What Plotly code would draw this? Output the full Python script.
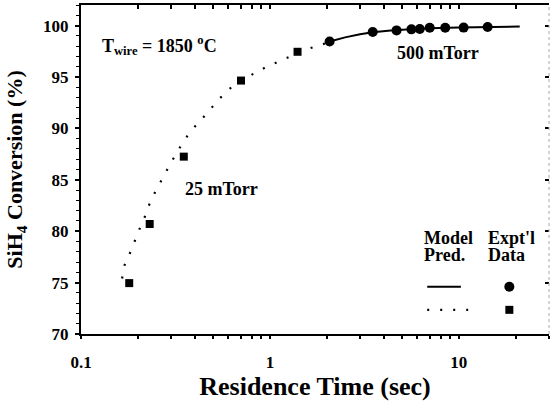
import plotly.graph_objects as go
import numpy as np

# Experimental data, 25 mTorr (squares)
time_25 = [0.18, 0.231, 0.35, 0.703, 1.40]
conv_25 = [74.95, 80.7, 87.25, 94.65, 97.45]

# Experimental data, 500 mTorr (circles)
time_500 = [2.07, 3.5, 4.68, 5.61, 6.21, 7.01, 8.47, 10.6, 14.2]
conv_500 = [98.45, 99.37, 99.53, 99.63, 99.67, 99.78, 99.79, 99.8, 99.86]

# Model prediction, 25 mTorr (dotted)
model_t_25 = [0.165, 0.169, 0.181, 0.192, 0.205, 0.22, 0.233, 0.25, 0.272, 0.297,
              0.325, 0.36, 0.404, 0.466, 0.534, 0.625, 0.85, 0.99, 1.18, 1.57, 2.07]
model_c_25 = [75.4, 76.6, 77.8, 79.05, 80.3, 81.6, 82.9, 84.0, 85.3, 86.55,
              87.8, 89.1, 90.25, 91.5, 92.8, 94.0, 95.5, 96.1, 96.7, 97.7, 98.4]

# Model prediction, 500 mTorr (solid)
model_t_500 = [2.07, 2.5, 3.0, 3.5, 4.5, 5.5, 7.0, 10.0, 14.0, 21.0]
model_c_500 = [98.45, 98.85, 99.15, 99.35, 99.55, 99.65, 99.75, 99.82, 99.86, 99.9]

x_range = [0.1, 30]
y_range = [70, 102]
x_tick_vals = [0.1, 1, 10]
x_tick_text = ["0.1", "1", "10"]
minor_x = [m * d for d in (0.1, 1, 10) for m in range(2, 10)] + [20, 30]

FONT = "Liberation Serif"
DOTS = "2px,11px"

fig = go.Figure()

fig.add_trace(go.Scatter(x=model_t_25, y=model_c_25, mode="lines",
                         line=dict(color="black", width=2.2, dash=DOTS),
                         showlegend=False))
fig.add_trace(go.Scatter(x=model_t_500, y=model_c_500, mode="lines",
                         line=dict(color="black", width=2), showlegend=False))
fig.add_trace(go.Scatter(x=time_25, y=conv_25, mode="markers",
                         marker=dict(symbol="square", size=8, color="black"),
                         showlegend=False))
fig.add_trace(go.Scatter(x=time_500, y=conv_500, mode="markers",
                         marker=dict(symbol="circle", size=10, color="black"),
                         showlegend=False))

# legend glyphs
fig.add_trace(go.Scatter(x=[6.8, 10.25], y=[74.6, 74.6], mode="lines",
                         line=dict(color="black", width=2), showlegend=False))
fig.add_trace(go.Scatter(x=[6.8, 11.2], y=[72.35, 72.35], mode="lines",
                         line=dict(color="black", width=2.2, dash=DOTS),
                         showlegend=False))
fig.add_trace(go.Scatter(x=[18.5], y=[74.6], mode="markers",
                         marker=dict(symbol="circle", size=10, color="black"),
                         showlegend=False))
fig.add_trace(go.Scatter(x=[18.5], y=[72.35], mode="markers",
                         marker=dict(symbol="square", size=8, color="black"),
                         showlegend=False))

# helper traces for secondary axes
fig.add_trace(go.Scatter(x=[1], y=[None], xaxis="x2", yaxis="y", showlegend=False,
                         hoverinfo="skip"))
fig.add_trace(go.Scatter(x=[1], y=[None], xaxis="x", yaxis="y2", showlegend=False,
                         hoverinfo="skip"))

ann_font = dict(family=FONT, size=18, color="black", weight="bold")
annotations = [
    dict(x=np.log10(0.126), y=98.1, text="T<sub>wire</sub> = 1850 <sup>o</sup>C",
         xanchor="left", yanchor="middle"),
    dict(x=np.log10(0.348), y=84.1, text="25 mTorr", xanchor="left", yanchor="middle"),
    dict(x=np.log10(4.6), y=97.35, text="500 mTorr", xanchor="left", yanchor="middle"),
    dict(x=np.log10(6.4), y=79.3, text="Model", xanchor="left", yanchor="middle"),
    dict(x=np.log10(6.4), y=77.7, text="Pred.", xanchor="left", yanchor="middle"),
    dict(x=np.log10(13.9), y=79.3, text="Expt'l", xanchor="left", yanchor="middle"),
    dict(x=np.log10(13.9), y=77.7, text="Data", xanchor="left", yanchor="middle"),
]
for a in annotations:
    a.update(xref="x", yref="y", showarrow=False, font=ann_font)

fig.update_layout(
    width=550, height=412,
    margin=dict(l=81, r=1, t=5, b=78),
    plot_bgcolor="white", paper_bgcolor="white",
    font=dict(family=FONT, size=17, color="black", weight="bold"),
    annotations=annotations,
    xaxis=dict(
        type="log", range=[np.log10(x_range[0]), np.log10(x_range[1])],
        tickvals=x_tick_vals + minor_x,
        ticktext=x_tick_text + [""] * len(minor_x),
        ticks="outside", ticklen=3, tickwidth=1.5, tickcolor="black",
        ticklabelstandoff=9,
        showline=True, linewidth=2, linecolor="black", showgrid=False, zeroline=False,
        tickfont=dict(family=FONT, size=17, weight="bold"),
        automargin=False,
        title=dict(text="Residence Time (sec)", standoff=0,
                   font=dict(family=FONT, size=26, weight="bold")),
    ),
    xaxis2=dict(
        type="log", range=[np.log10(x_range[0]), np.log10(x_range[1])],
        overlaying="x", side="top", automargin=False,
        tickvals=x_tick_vals + minor_x, showticklabels=False,
        ticks="inside", ticklen=4, tickwidth=1.5, tickcolor="black",
        showline=True, linewidth=1.5, linecolor="black", showgrid=False, zeroline=False,
    ),
    yaxis=dict(
        range=y_range, dtick=5, tick0=70,
        ticks="outside", ticklen=4, tickwidth=1.5, tickcolor="black",
        ticklabelstandoff=3,
        minor=dict(dtick=1, ticks="outside", ticklen=3, tickwidth=1, tickcolor="black"),
        showline=True, linewidth=2, linecolor="black", showgrid=False, zeroline=False,
        tickfont=dict(family=FONT, size=17, weight="bold"),
        automargin=False,
        title=dict(text="SiH<sub>4</sub> Conversion (%)", standoff=14,
                   font=dict(family=FONT, size=22, weight="bold")),
    ),
    yaxis2=dict(
        range=y_range, dtick=5, tick0=70, overlaying="y", side="right",
        showticklabels=False, ticks="inside", ticklen=4, tickwidth=1.5,
        tickcolor="black", showline=False, showgrid=False, zeroline=False,
        automargin=False,
    ),
    shapes=[dict(type="line", xref="paper", yref="paper", x0=1, x1=1, y0=0, y1=1,
                 line=dict(color="#aaaaaa", width=1, dash="dot"))],
)

fig.write_html("out.html", config={"displayModeBar": False},
               post_script="document.body.style.margin='0';")
